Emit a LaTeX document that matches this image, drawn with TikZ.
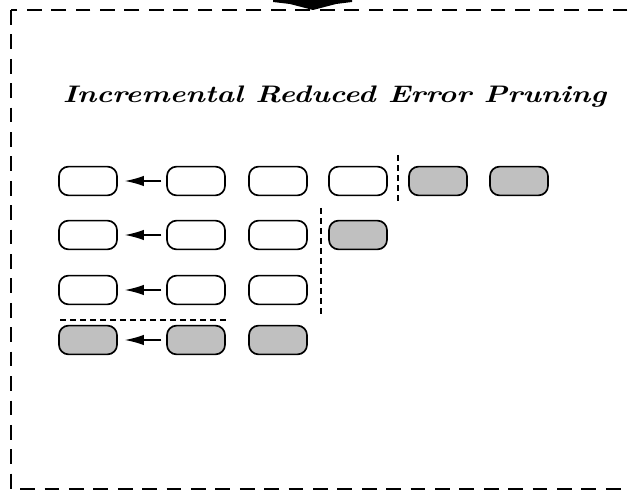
\documentclass[tikz,border=0pt]{standalone}
\usepackage{tikz}
\usetikzlibrary{arrows.meta}
\definecolor{tilegrey}{RGB}{192,192,192}
\tikzset{
	tile/.style={draw=black, line width=1.2pt, rounded corners=0.24cm, minimum width=1.45cm, minimum height=0.72cm, inner sep=0pt},
	tilegray/.style={tile, fill=tilegrey},
	backarrow/.style={line width=1.1pt, -{Latex[length=0.48cm, width=0.26cm]}, shorten >=0.17cm, shorten <=0.12cm},
	frameline/.style={line width=1.2pt, dash pattern=on 0.37cm off 0.24cm},
	cutline/.style={line width=1.1pt, dash pattern=on 0.15cm off 0.1cm}
}
\begin{document}
\begin{tikzpicture}[x=0.025cm, y=-0.025cm]
			%%%%% START %%%%%
			
			\clip (0, 0) rectangle (630, 491);
			
			\draw[frameline] (11, 10) rectangle (670, 489);
			\fill[black] (273, -1) -- (352, -1) -- (352, 2) -- (336, 4) -- (313, 10) -- (290, 4) -- (273, 2) -- cycle;
			
			\node[anchor=base, font=\fontsize{17}{20}\selectfont\bfseries\itshape] (title) at (334.5, 103) {\scalebox{1.25}[1]{Incremental Reduced Error Pruning}};
			
			\node[tile] (r1c1) at (88, 181) {};
			\node[tile] (r1c2) at (196, 181) {};
			\node[tile] (r1c3) at (278, 181) {};
			\node[tile] (r1c4) at (358, 181) {};
			\node[tilegray] (r1c5) at (438, 181) {};
			\node[tilegray] (r1c6) at (519, 181) {};
			
			\node[tile] (r2c1) at (88, 235) {};
			\node[tile] (r2c2) at (196, 235) {};
			\node[tile] (r2c3) at (278, 235) {};
			\node[tilegray] (r2c4) at (358, 235) {};
			
			\node[tile] (r3c1) at (88, 290) {};
			\node[tile] (r3c2) at (196, 290) {};
			\node[tile] (r3c3) at (278, 290) {};
			
			\node[tilegray] (r4c1) at (88, 340) {};
			\node[tilegray] (r4c2) at (196, 340) {};
			\node[tilegray] (r4c3) at (278, 340) {};
			
			\draw[backarrow] (r1c2) -- (r1c1);
			\draw[backarrow] (r2c2) -- (r2c1);
			\draw[backarrow] (r3c2) -- (r3c1);
			\draw[backarrow] (r4c2) -- (r4c1);
			
			\draw[cutline] (60, 320) -- (228, 320);
			\draw[cutline] (321, 208) -- (321, 318);
			\draw[cutline] (398, 155) -- (398, 205);
			
			%%%%% END %%%%%
\end{tikzpicture}
\end{document}
